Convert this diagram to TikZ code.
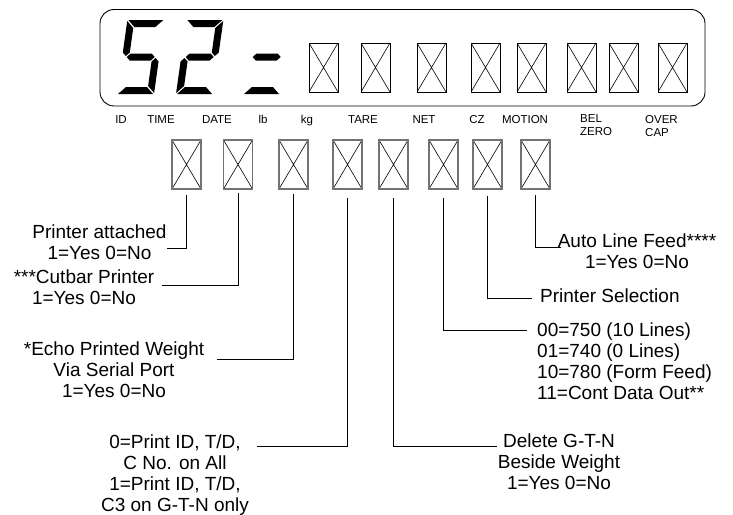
\documentclass[tikz,border=0pt]{standalone}
\usepackage{fontspec}
\setmainfont{Liberation Sans}

% segments of one LCD digit, local units, origin bottom left
\newcommand{\lcdA}{(1,74) -- (36,74) -- (29,67) -- (8,67) -- cycle}
\newcommand{\lcdB}{(37,73) -- (30,66) -- (30,41.5) -- (33.5,38) -- (37,41.5) -- cycle}
\newcommand{\lcdC}{(37,1) -- (30,8) -- (30,32.5) -- (33.5,36) -- (37,32.5) -- cycle}
\newcommand{\lcdD}{(1,0) -- (36,0) -- (29,7) -- (8,7) -- cycle}
\newcommand{\lcdE}{(0,1) -- (7,8) -- (7,32.5) -- (3.5,36) -- (0,32.5) -- cycle}
\newcommand{\lcdF}{(0,73) -- (7,66) -- (7,41.5) -- (3.5,38) -- (0,41.5) -- cycle}
\newcommand{\lcdG}{(4.5,37) -- (8,40.5) -- (29,40.5) -- (32.5,37) -- (29,33.5) -- (8,33.5) -- cycle}

\tikzset{
  xbox/.style={draw,inner sep=0pt,outer sep=0pt,minimum width=29pt,minimum height=49pt,
    path picture={\draw[black,line width=0.6pt]
      (path picture bounding box.north west) -- (path picture bounding box.south east)
      (path picture bounding box.north east) -- (path picture bounding box.south west);}},
  dispbox/.style={xbox,line width=0.8pt},
  bitbox/.style={xbox,draw=black!55,line width=1.3pt},
  lbl/.style={font=\fontsize{11.5}{13}\selectfont,inner sep=0pt,anchor=base},
  note/.style={font=\fontsize{19}{21}\selectfont,inner sep=0pt,align=center,anchor=north},
  lead/.style={line width=0.8pt}
}

\begin{document}
\begin{tikzpicture}[x=1pt,y=-1pt]
  \useasboundingbox (0,0) rectangle (733,514);

  % display window
  \node[draw,line width=0.9pt,rounded corners=14pt,minimum width=605pt,minimum height=96.5pt,
    inner sep=0pt] (disp) at (402.5,57.75) {};

  % "52-" in LCD segments
  \begin{scope}[shift={(117,94)},y=1pt,xslant=0.14]
    \fill \lcdA; \fill \lcdF; \fill \lcdG; \fill \lcdC; \fill \lcdD;
  \end{scope}
  \begin{scope}[shift={(176,94)},y=1pt,xslant=0.14]
    \fill \lcdA; \fill \lcdB; \fill \lcdG; \fill \lcdE; \fill \lcdD;
  \end{scope}
  \begin{scope}[shift={(243,94)},y=1pt,xslant=0.14]
    \fill \lcdG; \fill \lcdD;
  \end{scope}

  \foreach \x [count=\i] in {323.5,375.5,431.5,485.5,531.5,581.5,623.5,672.5}
    \node[dispbox] (d\i) at (\x,67.5) {};

  % annunciator labels
  \node[lbl] (lid) at (121,123) {ID};
  \node[lbl] (ltime) at (161,123) {TIME};
  \node[lbl] (ldate) at (217,123) {DATE};
  \node[lbl] (llb) at (263,123) {lb};
  \node[lbl] (lkg) at (307,123) {kg};
  \node[lbl] (ltare) at (363,123) {TARE};
  \node[lbl] (lnet) at (424,123) {NET};
  \node[lbl] (lcz) at (477,123) {CZ};
  \node[lbl] (lmotion) at (525,123) {MOTION};
  \node[lbl,align=left,anchor=north west] (lbel) at (580,114.8) {BEL\\ZERO};
  \node[lbl,align=left,anchor=north west] (lover) at (645,114.8) {OVER\\CAP};

  % setup bits
  \foreach \x [count=\i] in {186.5,238,293.5,347.5,393.5,443.5,487.5,535.5}
    \node[bitbox] (b\i) at (\x,164.5) {};

  % descriptions
  \node[note] (attach) at (99.5,224.2) {Printer attached\\1=Yes 0=No};
  \node[note] (cutbar) at (84,269.2) {***Cutbar Printer\\1=Yes 0=No};
  \node[note] (echo) at (114,341.2) {*Echo Printed Weight\\Via Serial Port\\1=Yes 0=No};
  \node[note] (prtid) at (175,434.2) {0=Print ID, T/D,\\C No. on All\\1=Print ID, T/D,\\C3 on G-T-N only};
  \node[note] (delgtn) at (559,433.2) {Delete G-T-N\\Beside Weight\\1=Yes 0=No};
  \node[note,align=left,anchor=north west] (model) at (537,322.2)
    {00=750 (10 Lines)\\01=740 (0 Lines)\\10=780 (Form Feed)\\11=Cont Data Out**};
  \node[note,anchor=north west] (prtsel) at (540,288.2) {Printer Selection};
  \node[note] (autolf) at (637,233.2) {Auto Line Feed****\\1=Yes 0=No};

  % leader lines
  \coordinate (e1) at (167,248);
  \coordinate (e2) at (162,285);
  \coordinate (e3) at (217,359);
  \coordinate (e4) at (257,446);
  \coordinate (e5) at (497,446);
  \coordinate (e6) at (527,330);
  \coordinate (e7) at (532,298);
  \coordinate (e8) at (561,247);
  \foreach \b/\e/\g in {b1/e1/6pt,b2/e2/4pt,b3/e3/5pt,b4/e4/9pt,b5/e5/9pt,b6/e6/9pt,b7/e7/7pt,b8/e8/6pt}
    \draw[lead] ([yshift=-\g]\b.south) |- (\e);
\end{tikzpicture}
\end{document}
